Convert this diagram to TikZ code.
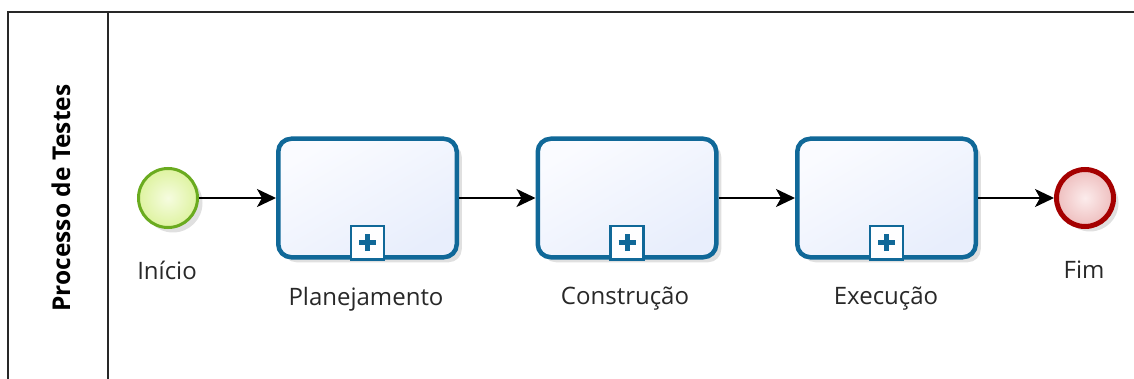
\documentclass[tikz,border=0pt]{standalone}
\usepackage{fontspec}
\setmainfont{Open Sans}
\usetikzlibrary{arrows.meta,shadows}
\definecolor{taskblue}{RGB}{16,104,152}
\definecolor{taskfillA}{RGB}{250,251,255}
\definecolor{taskfillB}{RGB}{232,238,252}
\definecolor{startgreen}{RGB}{106,171,31}
\definecolor{startfillA}{RGB}{246,252,224}
\definecolor{startfillB}{RGB}{222,243,160}
\definecolor{endred}{RGB}{165,0,0}
\definecolor{endfillA}{RGB}{252,236,236}
\definecolor{endfillB}{RGB}{238,190,190}
\definecolor{poolline}{RGB}{40,40,40}
\definecolor{labelgray}{RGB}{40,40,40}
\tikzset{
  x=1pt,y=-1pt,
  softshadow/.style={drop shadow={shadow xshift=5pt,shadow yshift=-5pt,opacity=0.12,fill=black}},
  taskbox/.style={rectangle,rounded corners=13pt,draw=taskblue,line width=4.5pt,
    minimum width=178.5pt,minimum height=118.5pt,
    top color=taskfillA,bottom color=taskfillB,shading angle=30,softshadow},
  startev/.style={circle,draw=startgreen,line width=3pt,minimum size=59pt,inner sep=0pt,
    shading=radial,inner color=startfillA,outer color=startfillB,softshadow},
  endev/.style={circle,draw=endred,line width=5pt,minimum size=57pt,inner sep=0pt,
    shading=radial,inner color=endfillA,outer color=endfillB,softshadow},
  submarker/.style={rectangle,draw=taskblue,line width=2.5pt,fill=white!70!taskfillA,
    minimum size=33pt,inner sep=0pt,
    path picture={\draw[taskblue,line width=5pt]
      ([xshift=-8.5pt]path picture bounding box.center) -- ([xshift=8.5pt]path picture bounding box.center)
      ([yshift=-8.5pt]path picture bounding box.center) -- ([yshift=8.5pt]path picture bounding box.center);}},
  flow/.style={draw=black,line width=2pt,-{Stealth[length=19pt,width=18pt,inset=5pt]}},
  lbl/.style={font=\fontsize{24}{28}\selectfont,text=labelgray,inner sep=0pt},
  pool/.style={draw=poolline,line width=2pt},
}
\begin{document}
\begin{tikzpicture}
\useasboundingbox (0,0) rectangle (1134,379);
\clip (0,0) rectangle (1134,379);
\fill[white] (0,0) rectangle (1134,379);
% pool
\draw[pool] (1150,12) -- (8,12) -- (8,400);
\draw[pool] (108,12) -- (108,400);
\node[rotate=90,font=\bfseries\fontsize{24.5}{28}\selectfont,inner sep=0pt] (title) at (61,198) {Processo de Testes};
% events and tasks
\node[startev] (start) at (168,198) {};
\node[taskbox] (t1) at (367.5,198) {};
\node[taskbox] (t2) at (627,198) {};
\node[taskbox] (t3) at (886.5,198) {};
\node[endev] (fim) at (1085,198) {};
% subprocess markers
\node[submarker,anchor=south] (m1) at ([yshift=-1pt]t1.south) {};
\node[submarker,anchor=south] (m2) at ([yshift=-1pt]t2.south) {};
\node[submarker,anchor=south] (m3) at ([yshift=-1pt]t3.south) {};
% flows
\draw[flow] (start) -- (t1);
\draw[flow] (t1) -- (t2);
\draw[flow] (t2) -- (t3);
\draw[flow] (t3) -- (fim);
% labels
\node[lbl] (lstart) at (167,270) {Início};
\node[lbl] (l1) at (366,299) {Planejamento};
\node[lbl] (l2) at (625,299) {Construção};
\node[lbl] (l3) at (886,299) {Execução};
\node[lbl] (lfim) at (1084,270) {Fim};
\end{tikzpicture}
\end{document}
